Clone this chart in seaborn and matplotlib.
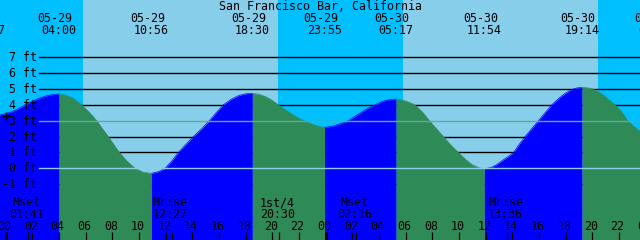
import matplotlib
matplotlib.use("Agg")
import matplotlib.pyplot as plt
import numpy as np
import pandas as pd
import seaborn as sns

# ---------------- data ----------------
title = "San Francisco Bar, California"

# tide curve readings: hours since 05-29 00:00, height in feet
tide_hours = [-1.38, -0.43, 0.0, 0.5, 1.0, 1.45, 2.0, 2.5, 3.0, 3.5, 4.0,
              4.5, 5.0, 5.7, 6.25, 6.83, 7.25, 7.7, 8.1, 8.52, 9.1, 9.7, 10.3, 10.93,
              11.5, 11.95, 12.45, 12.95, 13.5, 14.07, 14.7, 15.27, 15.8, 16.32, 16.9,
              17.5, 18.0, 18.5,
              19.0, 19.5, 20.0, 20.45, 21.0, 21.5, 22.0, 22.5, 23.0, 23.5, 23.92,
              24.5, 25.0, 25.7, 26.2, 26.7, 27.2, 27.7, 28.2, 28.7, 29.28,
              29.8, 30.3, 30.7, 31.25, 31.78, 32.3, 32.83, 33.4, 33.95, 34.5, 35.0,
              35.5, 35.9,
              36.4, 36.8, 37.3, 37.7, 38.1, 38.5, 38.95, 39.45, 39.95, 40.45, 40.95,
              41.6, 42.0, 42.4, 42.8, 43.23,
              43.7, 44.3, 45.0, 45.7, 46.2, 46.65, 47.1, 47.58, 48.2, 48.75]
tide_feet = [3.25, 3.36, 3.45, 3.58, 3.78, 4.0, 4.22, 4.42, 4.56, 4.65, 4.69,
             4.62, 4.45, 4.0, 3.55, 3.0, 2.5, 2.0, 1.5, 1.0, 0.45, 0.0, -0.24, -0.32,
             -0.2, 0.0, 0.45, 1.0, 1.5, 2.0, 2.5, 3.0, 3.52, 4.0, 4.35,
             4.6, 4.7, 4.73,
             4.67, 4.52, 4.28, 4.0, 3.68, 3.4, 3.15, 2.95, 2.78, 2.64, 2.58,
             2.65, 2.78, 3.0, 3.28, 3.55, 3.8, 4.0, 4.2, 4.32, 4.37,
             4.3, 4.15, 4.0, 3.55, 3.0, 2.5, 2.0, 1.45, 1.0, 0.55, 0.22,
             0.03, -0.03,
             0.05, 0.22, 0.52, 0.75, 1.0, 1.5, 2.0, 2.5, 3.0, 3.5, 4.0,
             4.5, 4.75, 4.95, 5.06, 5.11,
             5.07, 4.92, 4.5, 4.0, 3.55, 3.0, 2.65, 2.33, 2.1, 2.0]

# high / low tide events (the first date lies off the left edge)
event_hours = [-1.38, 4.0, 10.93, 18.5, 23.92, 29.28, 35.9, 43.23, 48.75]
event_dates = ["", "05-29", "05-29", "05-29", "05-29", "05-30", "05-30", "05-30", "05-31"]
event_times = ["22:37", "04:00", "10:56", "18:30", "23:55", "05:17", "11:54", "19:14", "00:45"]

# sun
sunrise_hours = [5.78, 29.78]
sunset_hours = [20.45, 44.45]

# moon events
moon_hours = [1.683, 12.45, 20.5, 26.267, 37.6]
moon_names = ["Mset", "Mrise", "1st/4", "Mset", "Mrise"]
moon_times = ["01:41", "12:27", "20:30", "02:16", "13:36"]

# hour ticks
tick_hours = [0, 2, 4, 6, 8, 10, 12, 14, 16, 18, 20, 22,
              24, 26, 28, 30, 32, 34, 36, 38, 40, 42, 44, 46, 48]
tick_labels = ["00", "02", "04", "06", "08", "10", "12", "14", "16", "18", "20", "22",
               "00", "02", "04", "06", "08", "10", "12", "14", "16", "18", "20", "22", "00"]
midnight_hours = [0, 24, 48]

# height grid
ft_levels = [-1, 0, 1, 2, 3, 4, 5, 6, 7]
ft_labels = ["-1 ft", "0 ft", "1 ft", "2 ft", "3 ft", "4 ft", "5 ft", "6 ft", "7 ft"]
msl_level = 3
datum_level = 0

# ---------------- geometry / style ----------------
W, H = 640, 240
PX_HR = 13.333      # pixels per hour
X0 = 5.7            # pixel x of hour 0
PX_FT = 15.85       # pixels per foot
Y0 = 168.3          # pixel y of 0 ft

def hx(px):   # pixel x -> hours
    return (px - X0) / PX_HR

def fy(py):   # pixel y -> feet
    return (Y0 - py) / PX_FT

NIGHT = "#00BFFF"
DAY = "#87CEEB"
RISE = "#0000FF"
FALL = "#2E8B57"
MSL_C = "#5FAA90"
DATUM_C = "#8CCDE8"
FONT = dict(family="DejaVu Sans Mono", size=8.4, color="black")

fig = plt.figure(figsize=(W / 100, H / 100), dpi=100)
ax = fig.add_axes([0, 0, 1, 1])

# background day / night
ax.axvspan(hx(-50), hx(W + 50), color=DAY, lw=0, zorder=0)
night_starts = [hx(-50)] + sunset_hours
night_ends = sunrise_hours + [hx(W + 50)]
for a, b in zip(night_starts, night_ends):
    ax.axvspan(a, b, color=NIGHT, lw=0, zorder=0)

# grid lines (behind the water)
line_start = 39 / W
for lv in ft_levels:
    if lv in (msl_level, datum_level):
        continue
    ax.axhline(lv, xmin=line_start, xmax=1, color="black", lw=1.0, zorder=1)

# tide fill: rising blue, falling green
df = pd.DataFrame({"hour": tide_hours, "feet": tide_feet})
ev_feet = [df.loc[np.isclose(df["hour"], e), "feet"].iloc[0] for e in event_hours]
seg_rows = []
for i in range(len(event_hours) - 1):
    a, b = event_hours[i], event_hours[i + 1]
    sub = df[(df["hour"] >= a) & (df["hour"] <= b)]
    rising = ev_feet[i + 1] > ev_feet[i]
    col = RISE if rising else FALL
    ax.fill_between(sub["hour"], sub["feet"], fy(H + 5), color=col, lw=0, zorder=2)
    s = sub.copy()
    s["phase"] = "rise" if rising else "fall"
    s["seg"] = i
    seg_rows.append(s)
curve = pd.concat(seg_rows, ignore_index=True)
sns.lineplot(data=curve, x="hour", y="feet", hue="phase", units="seg",
             estimator=None, palette={"rise": RISE, "fall": FALL},
             lw=0.5, legend=False, ax=ax, zorder=2)
ax.set_xlim(hx(0), hx(W))
ax.set_ylim(fy(H), fy(0))
ax.axis("off")

# mean sea level and datum lines (over the water)
ax.axhline(msl_level, xmin=line_start, xmax=1, color=MSL_C, lw=1.0, zorder=3)
ax.axhline(datum_level, xmin=line_start, xmax=1, color=DATUM_C, lw=1.0, zorder=3)

# height labels
for lv, lab in zip(ft_levels, ft_labels):
    ax.text(hx(36.5), fy(Y0 - lv * PX_FT + 4), lab, ha="right", va="baseline",
            zorder=5, **FONT)

# "now" mark
ax.plot([0], [fy(116)], marker="+", ms=6, mew=1.0, color="black", zorder=5)

# title
ax.text(hx(320), fy(10), title, ha="center", va="baseline", zorder=5, **FONT)

# tide event labels
for h, d, t in zip(event_hours, event_dates, event_times):
    if d:
        ax.text(h - 4 / PX_HR, fy(22), d, ha="center", va="baseline", zorder=5, **FONT)
    ax.text(h, fy(33.5), t, ha="center", va="baseline", zorder=5, **FONT)

# moon labels
for h, n, t in zip(moon_hours, moon_names, moon_times):
    ax.text(h - 1.4 / PX_HR, fy(206.3), n, ha="center", va="baseline", zorder=5, **FONT)
    ax.text(h - 1.4 / PX_HR, fy(218.3), t, ha="center", va="baseline", zorder=5, **FONT)

# hour ticks and labels
ax.vlines(tick_hours, fy(232), fy(H + 2), color="black", lw=0.9, zorder=5)
ax.vlines(midnight_hours, fy(232), fy(H + 2), color="black", lw=2.2, zorder=5)
ax.vlines(moon_hours, fy(232), fy(H + 2), color="black", lw=0.9, zorder=5)
for h, lab in zip(tick_hours, tick_labels):
    ax.text(h - 1.5 / PX_HR, fy(230), lab, ha="center", va="baseline", zorder=5, **FONT)

fig.savefig("out.png", dpi=100)
